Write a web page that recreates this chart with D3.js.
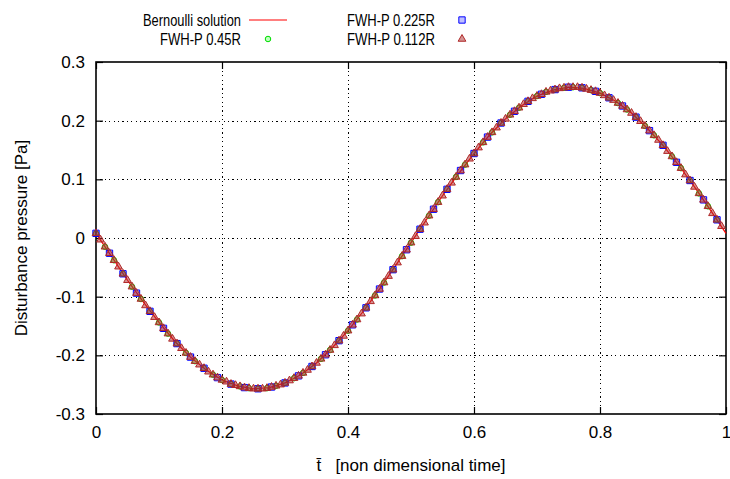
<!DOCTYPE html>
<html>
<head>
<meta charset="utf-8">
<script src="https://cdn.jsdelivr.net/npm/d3@7"></script>
<style>
  body { margin: 0; background: #fff; }
  svg text { font-family: "Liberation Sans", Arial, sans-serif; fill: #000; }
</style>
</head>
<body>
<svg width="730" height="479"></svg>
<script>
// axis ticks
const xTicks = [0, 0.2, 0.4, 0.6, 0.8, 1];
const yTicks = [-0.3, -0.2, -0.1, 0, 0.1, 0.2, 0.3];

// Bernoulli solution, sampled every 0.025
const bernoulliStep = 0.025;
const bernoulli = [0.008, -0.032, -0.072, -0.109, -0.144, -0.176, -0.203, -0.225, -0.242, -0.252,
    -0.257, -0.255, -0.247, -0.233, -0.213, -0.187, -0.158, -0.124, -0.087, -0.048,
    -0.008, 0.032, 0.072, 0.109, 0.144, 0.176, 0.203, 0.225, 0.242, 0.252,
    0.257, 0.255, 0.247, 0.233, 0.213, 0.187, 0.158, 0.124, 0.087, 0.048, 0.008];

// FWH-P 0.45R (circles)
const fwh045Step = 1 / 70;
const fwh045 = [0.008, -0.015, -0.038, -0.061, -0.083, -0.104, -0.125, -0.144, -0.163, -0.180,
    -0.196, -0.210, -0.222, -0.233, -0.242, -0.249, -0.253, -0.256, -0.257, -0.256,
    -0.252, -0.247, -0.239, -0.230, -0.219, -0.206, -0.191, -0.175, -0.158, -0.139,
    -0.119, -0.098, -0.076, -0.054, -0.031,
    -0.008, 0.015, 0.038, 0.061, 0.083, 0.104, 0.125, 0.144, 0.163, 0.180,
    0.196, 0.210, 0.222, 0.233, 0.242, 0.249, 0.253, 0.256, 0.257, 0.256,
    0.252, 0.247, 0.239, 0.230, 0.219, 0.206, 0.191, 0.175, 0.158, 0.139,
    0.119, 0.098, 0.076, 0.054, 0.031];

// FWH-P 0.225R (squares)
const fwh0225Step = 3 / 140;
const fwh0225 = [0.008, -0.026, -0.061, -0.094, -0.125, -0.154, -0.180, -0.203, -0.222, -0.238,
    -0.249, -0.255, -0.257, -0.254, -0.247, -0.235, -0.219, -0.199, -0.175, -0.148,
    -0.119, -0.087, -0.054, -0.020, 0.015, 0.049, 0.083, 0.115, 0.144, 0.172,
    0.196, 0.216, 0.233, 0.245, 0.253, 0.257, 0.256, 0.250, 0.239, 0.225,
    0.206, 0.183, 0.158, 0.129, 0.098, 0.065, 0.031];

// FWH-P 0.112R (triangles)
const fwh0112Step = 1 / 140;
const fwh0112 = [0.008, -0.003, -0.015, -0.026, -0.038, -0.049, -0.061, -0.072, -0.083, -0.094,
    -0.104, -0.115, -0.125, -0.135, -0.144, -0.154, -0.163, -0.172, -0.180, -0.188,
    -0.196, -0.203, -0.210, -0.216, -0.222, -0.228, -0.233, -0.238, -0.242, -0.245,
    -0.249, -0.251, -0.253, -0.255, -0.256, -0.257, -0.257, -0.257, -0.256, -0.254,
    -0.252, -0.250, -0.247, -0.243, -0.239, -0.235, -0.230, -0.225, -0.219, -0.213,
    -0.206, -0.199, -0.191, -0.183, -0.175, -0.167, -0.158, -0.148, -0.139, -0.129,
    -0.119, -0.108, -0.098, -0.087, -0.076, -0.065, -0.054, -0.042, -0.031, -0.020,
    -0.008, 0.003, 0.015, 0.026, 0.038, 0.049, 0.061, 0.072, 0.083, 0.094,
    0.104, 0.115, 0.125, 0.135, 0.144, 0.154, 0.163, 0.172, 0.180, 0.188,
    0.196, 0.203, 0.210, 0.216, 0.222, 0.228, 0.233, 0.238, 0.242, 0.245,
    0.249, 0.251, 0.253, 0.255, 0.256, 0.257, 0.257, 0.257, 0.256, 0.254,
    0.252, 0.250, 0.247, 0.243, 0.239, 0.235, 0.230, 0.225, 0.219, 0.213,
    0.206, 0.199, 0.191, 0.183, 0.175, 0.167, 0.158, 0.148, 0.139, 0.129,
    0.119, 0.108, 0.098, 0.087, 0.076, 0.065, 0.054, 0.042, 0.031, 0.020];

let svg = d3.select("svg");
let margin = { left: 96, right: 4, top: 62, bottom: 65 };
let width = +svg.attr("width");
let height = +svg.attr("height");

let x = d3.scaleLinear().domain([0, 1]).range([margin.left, width - margin.right]);
let y = d3.scaleLinear().domain([-0.3, 0.3]).range([height - margin.bottom, margin.top]);
let fmt = d => String(+d.toFixed(1));

// grid
let grid = svg.append("g").attr("stroke", "#000").attr("stroke-width", 1)
    .attr("stroke-dasharray", "1.2,3.2").attr("shape-rendering", "crispEdges");
grid.selectAll("line.gx").data(xTicks.slice(1, -1)).enter().append("line")
    .attr("x1", d => Math.round(x(d)) + 0.5).attr("x2", d => Math.round(x(d)) + 0.5)
    .attr("y1", y(0.3)).attr("y2", y(-0.3));
grid.selectAll("line.gy").data(yTicks.slice(1, -1)).enter().append("line")
    .attr("y1", d => Math.round(y(d)) + 0.5).attr("y2", d => Math.round(y(d)) + 0.5)
    .attr("x1", x(0)).attr("x2", x(1));

// axes with inward ticks (gnuplot style) and mirrored ticks
function styleAxis(g) {
    g.select(".domain").remove();
    g.selectAll(".tick line").attr("stroke", "#000").attr("stroke-width", 1.2);
    g.selectAll("text").attr("font-size", 17).attr("fill", "#000");
}
svg.append("g").attr("transform", `translate(0,${y(-0.3)})`)
    .call(d3.axisBottom(x).tickValues(xTicks).tickFormat(fmt).tickSize(-7).tickPadding(12))
    .call(styleAxis);
svg.append("g").attr("transform", `translate(0,${y(0.3)})`)
    .call(d3.axisTop(x).tickValues(xTicks).tickFormat("").tickSize(-7))
    .call(styleAxis);
svg.append("g").attr("transform", `translate(${x(0)},0)`)
    .call(d3.axisLeft(y).tickValues(yTicks).tickFormat(fmt).tickSize(-7).tickPadding(11))
    .call(styleAxis);
svg.append("g").attr("transform", `translate(${x(1)},0)`)
    .call(d3.axisRight(y).tickValues(yTicks).tickFormat("").tickSize(-7))
    .call(styleAxis);

// border
svg.append("rect")
    .attr("x", x(0)).attr("y", y(0.3))
    .attr("width", x(1) - x(0)).attr("height", y(-0.3) - y(0.3))
    .attr("fill", "none").attr("stroke", "#000").attr("stroke-width", 1.6);

// marker symbols
let circle = d3.symbol().type(d3.symbolCircle).size(24);
let square = d3.symbol().type(d3.symbolSquare).size(40);
let triangle = d3.symbol().type(d3.symbolTriangle).size(26);

let series = [
    { name: "FWH-P 0.45R", values: fwh045, step: fwh045Step, sym: circle, stroke: "#00dd00", fill: "rgba(0,255,0,0.25)" },
    { name: "FWH-P 0.225R", values: fwh0225, step: fwh0225Step, sym: square, stroke: "#0000ff", fill: "rgba(0,0,255,0.25)" },
    { name: "FWH-P 0.112R", values: fwh0112, step: fwh0112Step, sym: triangle, stroke: "#b02828", fill: "rgba(170,40,40,0.5)" }
];

let line = d3.line().x((d, i) => x(i * bernoulliStep)).y(d => y(d));
svg.append("path").datum(bernoulli)
    .attr("d", line).attr("fill", "none").attr("stroke", "#ff0000").attr("stroke-width", 1.2);

series.forEach(function (s) {
    svg.append("g").selectAll("path").data(s.values).enter().append("path")
        .attr("transform", (d, i) => `translate(${x(i * s.step)},${y(d)})`)
        .attr("d", s.sym)
        .attr("fill", s.fill).attr("stroke", s.stroke).attr("stroke-width", 1);
});

// legend, two columns (narrow lettering as in the original)
let key = svg.append("g").attr("font-size", 17);
let keyItems = [
    { label: "Bernoulli solution", tx: 241, ty: 26, len: 98, kind: "line" },
    { label: "FWH-P 0.45R", tx: 241, ty: 45, len: 81, s: series[0] },
    { label: "FWH-P 0.225R", tx: 435, ty: 26, len: 88, s: series[1] },
    { label: "FWH-P 0.112R", tx: 435, ty: 45, len: 88, s: series[2] }
];
keyItems.forEach(function (k) {
    key.append("text").attr("x", k.tx - k.len).attr("y", k.ty)
        .attr("textLength", k.len).attr("lengthAdjust", "spacingAndGlyphs").text(k.label);
    if (k.kind === "line") {
        key.append("line").attr("x1", k.tx + 8).attr("x2", k.tx + 46)
            .attr("y1", k.ty - 6).attr("y2", k.ty - 6)
            .attr("stroke", "#ff0000").attr("stroke-width", 1.2);
    } else {
        key.append("path").attr("transform", `translate(${k.tx + 27},${k.ty - 6})`)
            .attr("d", k.s.sym).attr("fill", k.s.fill).attr("stroke", k.s.stroke);
    }
});

// axis titles
svg.append("text")
    .attr("transform", `translate(27,${(y(0.3) + y(-0.3)) / 2}) rotate(-90)`)
    .attr("text-anchor", "middle").attr("font-size", 17)
    .text("Disturbance pressure [Pa]");
svg.append("text")
    .attr("x", (x(0) + x(1)) / 2).attr("y", 471)
    .attr("text-anchor", "middle").attr("font-size", 17)
    .style("white-space", "pre")
    .text("t\u0304   [non dimensional time]");
</script>
</body>
</html>
